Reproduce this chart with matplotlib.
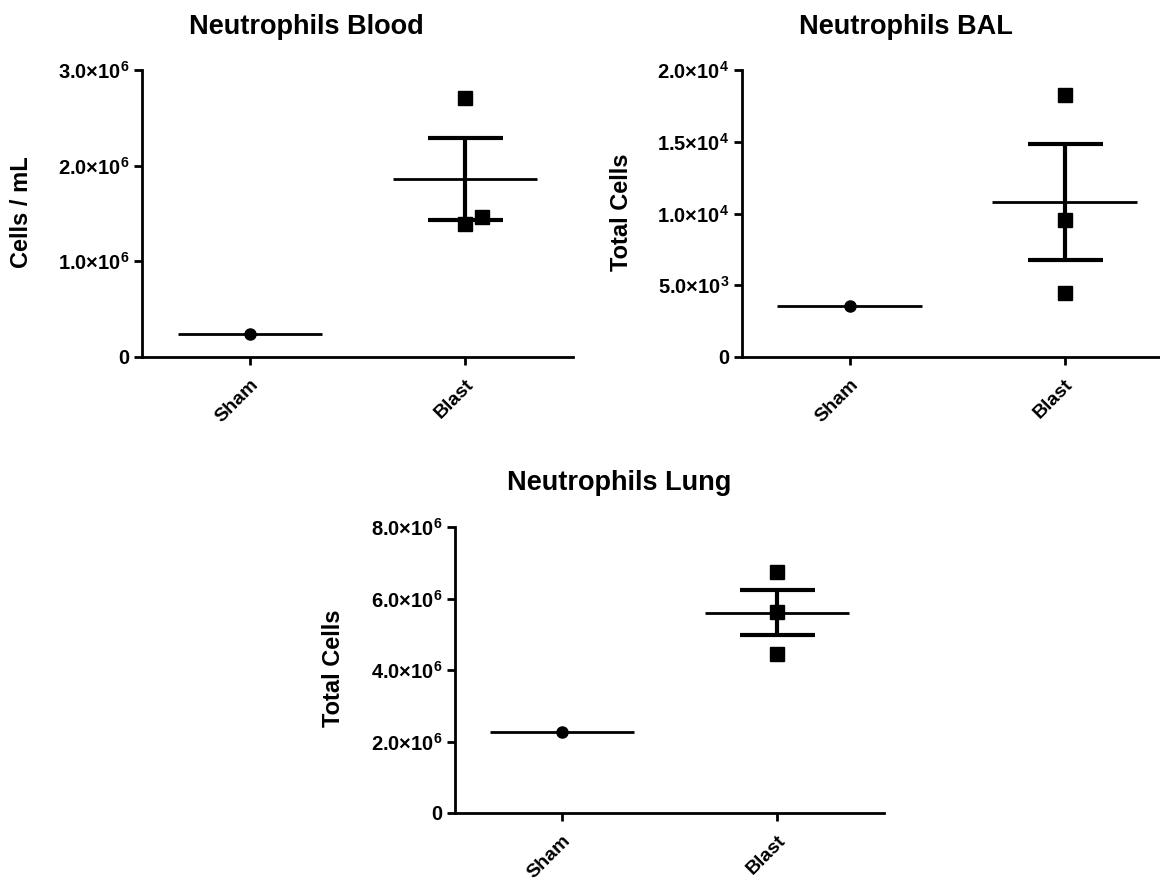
import matplotlib
matplotlib.use("Agg")
import matplotlib.pyplot as plt

plt.rcParams['font.family'] = ['Liberation Sans', 'DejaVu Sans']
plt.rcParams['font.weight'] = 'bold'
plt.rcParams['mathtext.fontset'] = 'custom'
plt.rcParams['mathtext.rm'] = 'Liberation Sans:bold'
plt.rcParams['mathtext.bf'] = 'Liberation Sans:bold'
plt.rcParams['mathtext.it'] = 'Liberation Sans:bold'

# ---------------- data ----------------
groups = ["Sham", "Blast"]

blood_sham = [0.245e6]
blood_blast = [2.707e6, 1.394e6, 1.464e6]
blood_mean = [0.245e6, 1.857e6]
blood_sem = [0.0, 0.427e6]
blood_ticks = [0, 1e6, 2e6, 3e6]
blood_ticklabels = ["0", r"$\mathbf{1.0{\times}10^{6}}$", r"$\mathbf{2.0{\times}10^{6}}$",
                    r"$\mathbf{3.0{\times}10^{6}}$"]

bal_sham = [3550]
bal_blast = [18250, 9530, 4440]
bal_mean = [3550, 10770]
bal_sem = [0, 4040]
bal_ticks = [0, 5e3, 1e4, 1.5e4, 2e4]
bal_ticklabels = ["0", r"$\mathbf{5.0{\times}10^{3}}$", r"$\mathbf{1.0{\times}10^{4}}$",
                  r"$\mathbf{1.5{\times}10^{4}}$", r"$\mathbf{2.0{\times}10^{4}}$"]

lung_sham = [2.255e6]
lung_blast = [6.729e6, 5.633e6, 4.436e6]
lung_mean = [2.255e6, 5.606e6]
lung_sem = [0, 0.636e6]
lung_ticks = [0, 2e6, 4e6, 6e6, 8e6]
lung_ticklabels = ["0", r"$\mathbf{2.0{\times}10^{6}}$", r"$\mathbf{4.0{\times}10^{6}}$",
                   r"$\mathbf{6.0{\times}10^{6}}$", r"$\mathbf{8.0{\times}10^{6}}$"]

# ---------------- figure ----------------
W, H = 1160, 881
fig = plt.figure(figsize=(W / 100, H / 100), dpi=100)


def px_axes(left, right, top, bottom):
    return fig.add_axes([left / W, 1 - bottom / H, (right - left) / W, (bottom - top) / H])


def draw(ax, sham, blast, mean, sem, ticks, ticklabels, ymax, blast_offsets):
    x = list(range(len(groups)))
    # means
    ax.hlines(mean, [xi - 0.335 for xi in x], [xi + 0.335 for xi in x],
              colors='black', lw=2.0, zorder=3)
    # SEM error bars (Blast only, Sham n=1)
    ax.errorbar([x[1]], [mean[1]], yerr=[sem[1]], fmt='none', ecolor='black',
                elinewidth=3.0, capsize=27, capthick=3.0, zorder=3)
    # points
    ax.plot([x[0]] * len(sham), sham, 'o', color='black', ms=8, zorder=4, clip_on=False)
    ax.plot([x[1] + o for o in blast_offsets], blast, 's', color='black', ms=9.5,
            zorder=4, clip_on=False)
    ax.set_xlim(-0.5, 1.5)
    ax.set_ylim(0, ymax)
    ax.set_xticks(x)
    ax.set_xticklabels(groups, rotation=45, ha='right', va='top',
                       rotation_mode='anchor', fontsize=14, fontweight='bold')
    ax.set_yticks(ticks)
    ax.set_yticklabels(ticklabels, fontsize=14.5, fontweight='bold')
    for s in ['top', 'right']:
        ax.spines[s].set_visible(False)
    for s in ['left', 'bottom']:
        ax.spines[s].set_linewidth(2.0)
    ax.tick_params(axis='both', direction='out', length=6, width=2.0, pad=3)
    ax.tick_params(axis='x', pad=8)


ax1 = px_axes(142, 573, 70, 357)
draw(ax1, blood_sham, blood_blast, blood_mean, blood_sem, blood_ticks, blood_ticklabels,
     3e6, [0.0, 0.0, 0.079])
ax2 = px_axes(742, 1172, 70, 357)
draw(ax2, bal_sham, bal_blast, bal_mean, bal_sem, bal_ticks, bal_ticklabels,
     2e4, [0.0, 0.0, 0.0])
ax3 = px_axes(455, 884, 527, 813)
draw(ax3, lung_sham, lung_blast, lung_mean, lung_sem, lung_ticks, lung_ticklabels,
     8e6, [0.0, 0.0, 0.0])

# titles
fig.text(306 / W, 1 - 27 / H, "Neutrophils Blood", ha='center', va='center',
         fontsize=19.5, fontweight='bold')
fig.text(906 / W, 1 - 27 / H, "Neutrophils BAL", ha='center', va='center',
         fontsize=19.5, fontweight='bold')
fig.text(619 / W, 1 - 483 / H, "Neutrophils Lung", ha='center', va='center',
         fontsize=19.5, fontweight='bold')

# y labels
fig.text(22 / W, 1 - 212 / H, "Cells / mL", rotation=90, ha='center', va='center',
         fontsize=17, fontweight='bold')
fig.text(621 / W, 1 - 212 / H, "Total Cells", rotation=90, ha='center', va='center',
         fontsize=17, fontweight='bold')
fig.text(333 / W, 1 - 668 / H, "Total Cells", rotation=90, ha='center', va='center',
         fontsize=17, fontweight='bold')

fig.savefig("out.png", dpi=100)
